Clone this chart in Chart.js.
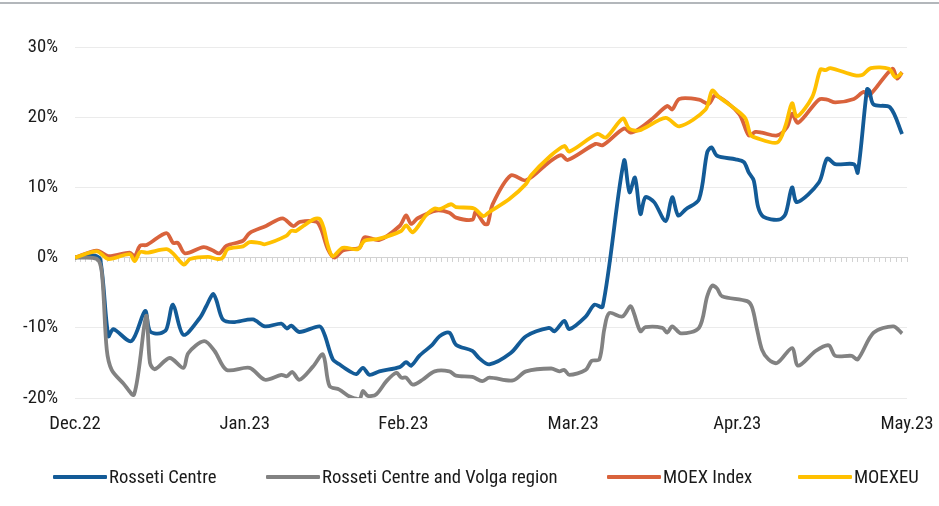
<!DOCTYPE html>
<html><head><meta charset="utf-8">
<script src="https://cdn.jsdelivr.net/npm/chart.js@4"></script>
<style>
html,body{margin:0;padding:0;background:#fff;overflow:hidden}
#wrap{position:relative;width:939px;height:506px}
#topline{position:absolute;left:0;top:2px;width:939px;height:2px;background:#b3b7bb}
canvas{position:absolute;left:0;top:0}
#legend{position:absolute;left:53px;top:466px;height:22px;display:flex;align-items:center;white-space:nowrap;color:#1a1a1a}
#legend .item{display:flex;align-items:center;height:22px}
#legend .item:nth-child(1){width:213px}
#legend .item:nth-child(2){width:341px}
#legend .item:nth-child(3){width:191px}
#legend .ln{display:inline-block;width:54px;height:4px;margin-right:2px;border-radius:1px}
</style></head><body>
<div id="wrap"><canvas id="c" width="939" height="506"></canvas><div id="topline"></div><div id="legend"></div></div>
<script>
// ---- data ----
const seriesNames = ['Rosseti Centre', 'Rosseti Centre and Volga region', 'MOEX Index', 'MOEXEU'];
const seriesColors = ['#135b97', '#828282', '#d9633c', '#ffc000'];
const monthTickDays = [0, 31, 60, 91, 121, 152];
const monthTickLabels = ['Dec.22', 'Jan.23', 'Feb.23', 'Mar.23', 'Apr.23', 'May.23'];

const rcDays = [0,3.3,4.6,6.1,7.0,10.3,12.8,13.7,15.5,16.7,17.9,19.8,22.8,24.0,25.2,25.8,27.0,28.9,32.5,34.7,37.7,38.7,39.5,41.0,44.7,45.6,47.1,48.3,50.2,51.4,52.6,53.8,55.6,59.3,60.5,61.4,62.9,65.3,66.6,68.4,69.6,72.6,73.8,75.7,79.6,82.4,86.6,87.6,89.4,90.3,93.3,94.9,96.4,100.3,101.3,102.3,103.3,104.2,105.8,107.9,109.1,110.2,111.6,114.0,115.5,116.3,117.3,120.7,122.2,123.1,124.0,124.8,125.8,128.6,129.8,131.0,131.9,135.9,137.4,138.9,142.3,143.0,144.7,145.1,145.9,148.9,151.1];
const rcValues = [0,0.3,-0.2,-11.2,-10.2,-11.9,-7.6,-10.5,-10.8,-10.2,-6.7,-11.0,-8.6,-6.9,-5.2,-6.0,-8.8,-9.2,-8.8,-9.8,-9.4,-10.1,-9.7,-10.6,-9.8,-11.0,-14.5,-15.2,-16.2,-16.6,-15.7,-16.7,-16.2,-15.6,-14.9,-15.4,-14.0,-12.4,-11.2,-10.7,-12.4,-13.3,-14.3,-15.2,-13.6,-11.2,-10.0,-10.5,-9.0,-10.2,-8.4,-6.7,-7.0,13.8,9.3,11.4,6.2,8.6,7.9,5.2,8.6,6.0,6.9,8.3,15.0,15.7,14.5,14.0,13.6,12.1,11.0,7.2,5.8,5.4,6.2,10.0,7.9,10.7,14.1,13.3,13.3,12.1,24.0,23.8,21.8,21.4,17.6];

const rcvDays = [0,4.0,4.9,5.8,6.7,8.8,10.8,13.0,13.7,14.6,17.3,19.8,20.7,23.6,25.5,27.7,31.9,34.7,37.7,38.7,39.7,41.0,43.5,45.3,46.5,48.3,50.2,52.0,52.6,53.5,55.0,56.9,58.7,59.6,60.5,61.7,63.5,65.7,68.4,69.6,72.6,74.4,75.7,80.0,82.4,87.0,88.5,89.4,90.3,93.3,94.4,95.8,96.7,97.6,100.0,101.5,102.1,103.3,104.2,107.3,108.2,109.1,110.7,114.0,115.5,116.4,117.3,118.2,122.8,123.7,124.6,125.5,126.7,128.3,131.0,132.1,135.3,137.7,138.9,141.9,143.0,145.9,149.5,151.1];
const rcvValues = [0,-0.2,-2.1,-13.1,-16.0,-17.9,-19.5,-8.3,-15.0,-15.9,-14.3,-15.7,-13.6,-11.9,-13.3,-16.0,-15.7,-17.4,-16.7,-16.9,-16.3,-17.4,-15.5,-13.8,-18.3,-18.8,-19.8,-20.1,-19.0,-19.7,-19.5,-17.6,-16.4,-17.1,-17.1,-18.1,-17.4,-16.2,-16.2,-16.8,-17.0,-17.6,-17.1,-17.5,-16.2,-15.8,-16.2,-16.0,-16.7,-16.0,-14.7,-14.5,-10.2,-7.9,-8.4,-6.9,-7.9,-10.5,-9.9,-10.0,-10.7,-9.8,-10.8,-10.0,-5.5,-4.0,-4.4,-5.5,-6.2,-7.1,-10.2,-13.1,-14.5,-15.0,-12.9,-15.4,-13.3,-12.5,-14.0,-14.0,-14.5,-10.7,-9.8,-10.8];

const moexDays = [0,4.0,6.1,10.0,10.9,11.9,13.1,16.7,17.9,18.8,20.1,23.5,25.2,26.4,27.7,30.7,31.9,34.9,37.9,39.9,41.1,44.1,45.0,46.2,47.4,48.9,50.2,52.0,52.9,55.6,59.3,60.5,61.4,62.6,66.0,68.4,69.6,72.6,73.2,74.8,75.4,76.3,79.6,82.4,86.6,88.8,90.0,95.1,96.4,100.3,101.5,103.0,105.5,108.2,109.1,110.4,114.0,115.8,117.0,121.3,123.1,124.3,125.5,128.3,130.1,131.0,132.1,135.9,137.4,138.9,142.3,144.1,145.1,149.3,150.2,151.1];
const moexValues = [0,1.0,0.2,0.7,0.2,1.7,1.8,3.5,2.1,2.1,0.6,1.5,1.0,0.6,1.7,2.4,3.5,4.5,5.6,4.5,5.1,5.1,4.0,1.2,0.0,1.0,1.2,1.4,2.9,2.5,4.5,6.0,4.8,5.6,6.7,6.4,5.7,5.4,6.5,4.8,4.8,7.6,11.7,11.0,13.6,14.6,13.9,16.2,16.0,18.4,17.8,18.3,19.8,21.6,21.1,22.6,22.5,21.9,23.1,20.5,17.4,17.9,17.8,17.4,18.6,20.5,19.2,22.5,22.5,22.1,22.6,23.6,23.1,26.9,25.5,26.4];

const moexeuDays = [0,4.0,6.1,10.0,10.9,11.9,13.1,16.7,17.9,19.9,21.0,24.3,26.1,27.0,27.9,30.7,31.9,33.7,34.7,38.6,39.5,40.4,41.7,43.7,44.7,45.4,46.2,47.1,48.9,51.7,52.9,55.6,59.6,60.5,61.7,64.1,65.7,66.6,68.7,69.6,72.9,74.6,75.7,79.3,82.4,83.3,86.6,89.4,90.3,95.4,97.0,100.1,101.2,103.0,107.9,110.4,115.2,116.4,117.6,120.9,122.5,123.4,124.3,128.3,129.8,131.0,131.9,134.7,136.2,137.1,138.0,142.3,143.8,145.4,148.7,149.9,151.1];
const moexeuValues = [0,0.9,-0.2,0.5,-0.5,0.8,0.7,1.2,0.6,-1.0,-0.2,0.1,-0.2,0.0,1.2,1.6,2.2,2.1,1.9,3.1,3.8,3.8,4.5,5.5,5.5,4.3,1.7,0.2,1.4,1.2,2.4,2.7,3.8,4.6,3.6,6.0,7.0,6.9,7.6,7.2,7.0,5.9,6.5,8.3,10.5,11.7,14.3,15.9,15.1,17.6,17.1,19.8,18.4,18.1,19.9,18.7,21.1,23.8,22.9,21.0,19.8,17.5,17.1,16.4,18.8,22.0,20.1,22.9,26.8,26.7,27.0,26.0,26.0,27.0,26.9,25.7,26.3];

const seriesDays = [rcDays, rcvDays, moexDays, moexeuDays];
const seriesValues = [rcValues, rcvValues, moexValues, moexeuValues];
const drawOrder = [2, 1, 3, 0]; // lower = drawn on top

// ---- font selection: prefer a condensed face, else scale a regular one to the same width ----
const mctx = document.createElement('canvas').getContext('2d');
const SAMPLE = 'Rosseti Centre and Volga region';
const TARGET_W = 236;
function mw(f) { mctx.font = f; return mctx.measureText(SAMPLE).width; }
let family = '"Liberation Sans", Arial, sans-serif';
let stretch = '';
let found = false;
const narrowFamilies = ['"Liberation Sans Narrow"', '"Roboto Condensed"', '"DejaVu Sans Condensed"'];
for (const f of narrowFamilies) {
  if (Math.abs(mw('19px ' + f + ', monospace') - mw('19px monospace')) > 0.5) { family = f + ', sans-serif'; found = true; break; }
}
if (!found) {
  const stretchFamilies = ['Roboto', 'Noto Sans', 'Open Sans', 'DejaVu Sans', 'Inter', 'Lato'];
  for (const f of stretchFamilies) {
    const q = '"' + f + '"';
    if (mw('condensed 19px ' + q) < 0.92 * mw('19px ' + q)) { family = q + ', sans-serif'; stretch = 'condensed'; found = true; break; }
  }
}
let fsize = 19 * TARGET_W / mw((stretch ? stretch + ' ' : '') + '19px ' + family);
fsize = Math.min(20, Math.round(fsize * 10) / 10);

Chart.defaults.font.family = family;
Chart.defaults.font.size = fsize;
if (stretch) Chart.defaults.font.weight = stretch;
Chart.defaults.color = '#1a1a1a';

// ---- legend (HTML, built from the series arrays) ----
const legendEl = document.getElementById('legend');
legendEl.style.fontFamily = family.replace(/"/g, "'");
legendEl.style.fontSize = fsize + 'px';
if (stretch) legendEl.style.fontStretch = stretch;
seriesNames.forEach((name, i) => {
  const item = document.createElement('div');
  item.className = 'item';
  const ln = document.createElement('span');
  ln.className = 'ln';
  ln.style.background = seriesColors[i];
  const tx = document.createElement('span');
  tx.textContent = name;
  item.appendChild(ln); item.appendChild(tx);
  legendEl.appendChild(item);
});

const datasets = seriesNames.map((name, i) => ({
  label: name,
  data: seriesDays[i].map((d, j) => ({x: d, y: seriesValues[i][j]})),
  borderColor: seriesColors[i],
  backgroundColor: seriesColors[i],
  borderWidth: 3.8,
  pointRadius: 0,
  tension: 0.3,
  fill: false,
  order: drawOrder[i],
  xAxisID: 'x',
  yAxisID: 'y'
}));

new Chart(document.getElementById('c'), {
  type: 'line',
  data: { datasets },
  options: {
    responsive: false,
    animation: false,
    events: [],
    layout: { padding: { left: 5, right: 32, top: 47, bottom: 68 } },
    scales: {
      x: {
        type: 'linear', min: 0, max: 152, position: 'bottom',
        grid: { display: false, drawTicks: true, tickLength: 12 },
        border: { display: false },
        afterBuildTicks: (s) => { s.ticks = monthTickDays.map(v => ({ value: v })); },
        afterFit: (s) => { s.height = 40; },
        ticks: {
          padding: 3, autoSkip: false, maxRotation: 0,
          callback: (v) => { const i = monthTickDays.indexOf(v); return i >= 0 ? monthTickLabels[i] : ''; }
        }
      },
      x2: {
        type: 'linear', axis: 'x', min: 0, max: 152, position: { y: 0 },
        grid: { display: true, drawOnChartArea: false, drawTicks: true, tickLength: 4, color: '#d2d2d2' },
        border: { display: true, color: '#d2d2d2', width: 1 },
        ticks: { stepSize: 1, autoSkip: false, maxTicksLimit: 1000, padding: 0, callback: () => '' }
      },
      y: {
        type: 'linear', min: -20, max: 30,
        grid: { color: '#ebebeb', drawTicks: false },
        border: { display: false },
        afterFit: (s) => { s.width = 70; },
        ticks: { stepSize: 10, padding: 17, callback: (v) => v + '%' }
      }
    },
    plugins: {
      tooltip: { enabled: false },
      legend: { display: false }
    }
  }
});
</script>
</body></html>
